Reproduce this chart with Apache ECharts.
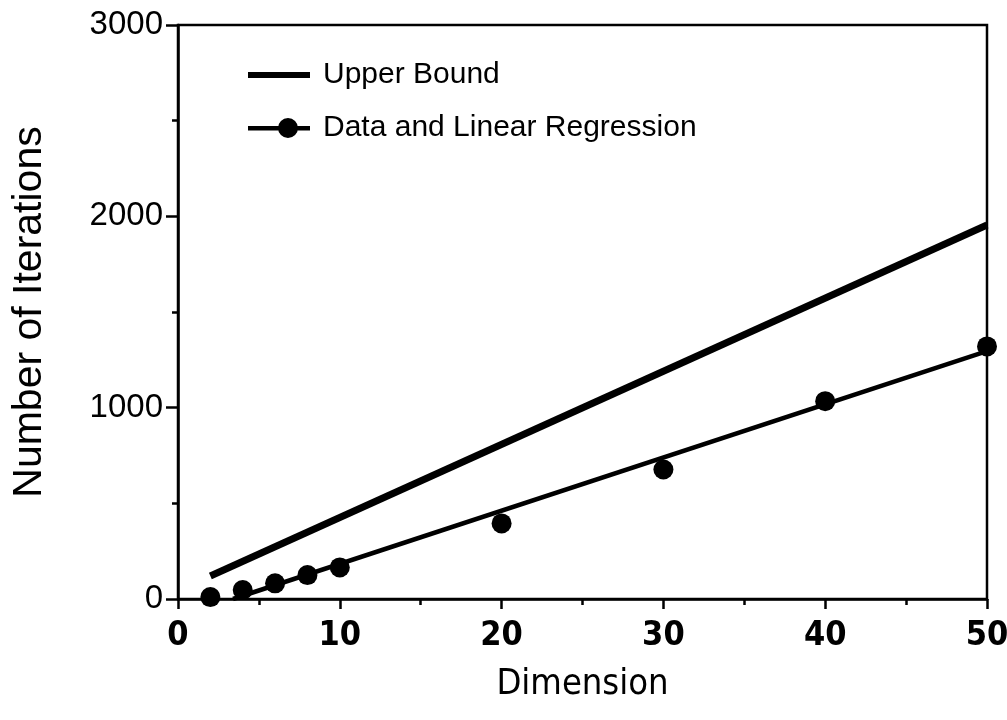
<!DOCTYPE html>
<html>
<head>
<meta charset="utf-8">
<script src="https://cdn.jsdelivr.net/npm/echarts@6/dist/echarts.min.js"></script>
<style>html,body{margin:0;padding:0;background:#fff;}#c{width:1007px;height:720px;}</style>
</head>
<body>
<div id="c"></div>
<script>
// Data
var dimensions = [2, 4, 6, 8, 10, 20, 30, 40, 50];
var iterations = [10, 47, 82, 125, 165, 395, 677, 1034, 1320];
var upperBoundX = [2, 50];
var upperBoundY = [120, 1955];
var regressionX = [3.4, 50];
var regressionY = [0, 1295];
var xTicks = [0, 10, 20, 30, 40, 50];
var yTicks = [0, 1000, 2000, 3000];

function pairs(xs, ys) { return xs.map(function (x, i) { return [x, ys[i]]; }); }

var narrow = "'DejaVu Sans Condensed', 'Liberation Sans Narrow', 'Liberation Sans', sans-serif";
var sans = "'Liberation Sans', Arial, Helvetica, sans-serif";

var chart = echarts.init(document.getElementById('c'), null, {renderer: 'canvas'});
chart.setOption({
  backgroundColor: '#fff',
  animation: false,
  grid: {left: 178, right: 20, top: 25, bottom: 121, show: true, borderColor: '#000', borderWidth: 2.5,
         backgroundColor: 'transparent', containLabel: false, outerBoundsMode: 'none'},
  legend: {
    orient: 'vertical', left: 243, top: 55,
    itemWidth: 62, itemHeight: 20, itemGap: 23,
    textStyle: {fontFamily: sans, fontSize: 30, color: '#000', lineHeight: 30, padding: [0, 0, 0, 8]},
    data: [
      {name: 'Upper Bound', icon: 'path://M0,0 L62,0 L62,6 L0,6 Z'},
      {name: 'Data and Linear Regression', icon: 'path://M0,8 L62,8 L62,12.5 L0,12.5 Z M50,10 A10,10 0 1 1 30,10 A10,10 0 1 1 50,10 Z'}
    ]
  },
  xAxis: {
    type: 'value', min: xTicks[0], max: xTicks[xTicks.length - 1], interval: xTicks[1] - xTicks[0],
    name: 'Dimension', nameLocation: 'middle', nameGap: 68,
    nameTextStyle: {fontFamily: narrow, fontSize: 36, color: '#000'},
    axisLine: {lineStyle: {color: '#000', width: 2.5}},
    axisTick: {length: 10, lineStyle: {color: '#000', width: 2.5}},
    minorTick: {show: true, splitNumber: 2, length: 6, lineStyle: {color: '#000', width: 2.5}},
    splitLine: {show: false},
    axisLabel: {margin: 20, fontFamily: narrow, fontSize: 34, fontWeight: 'bold', color: '#000'}
  },
  yAxis: {
    type: 'value', min: yTicks[0], max: yTicks[yTicks.length - 1], interval: yTicks[1] - yTicks[0],
    name: 'Number of Iterations', nameLocation: 'middle', nameGap: 128,
    nameTextStyle: {fontFamily: sans, fontSize: 41, color: '#000'},
    axisLine: {show: true, lineStyle: {color: '#000', width: 2.5}},
    axisTick: {show: true, length: 12, lineStyle: {color: '#000', width: 2.5}},
    minorTick: {show: true, splitNumber: 2, length: 6, lineStyle: {color: '#000', width: 2.5}},
    splitLine: {show: false},
    axisLabel: {margin: 15, fontFamily: sans, fontSize: 33, color: '#000',
                formatter: function (v) { return String(v); }}
  },
  series: [
    {name: 'Upper Bound', type: 'line', data: pairs(upperBoundX, upperBoundY), symbol: 'none',
     lineStyle: {color: '#000', width: 7}, itemStyle: {color: '#000'}},
    {name: 'Data and Linear Regression', type: 'line', data: pairs(regressionX, regressionY), symbol: 'none',
     lineStyle: {color: '#000', width: 4.5}, itemStyle: {color: '#000'}},
    {name: 'Data', type: 'scatter', data: pairs(dimensions, iterations), symbol: 'circle', symbolSize: 20,
     itemStyle: {color: '#000', opacity: 1}, clip: false}
  ]
});
</script>
</body>
</html>
